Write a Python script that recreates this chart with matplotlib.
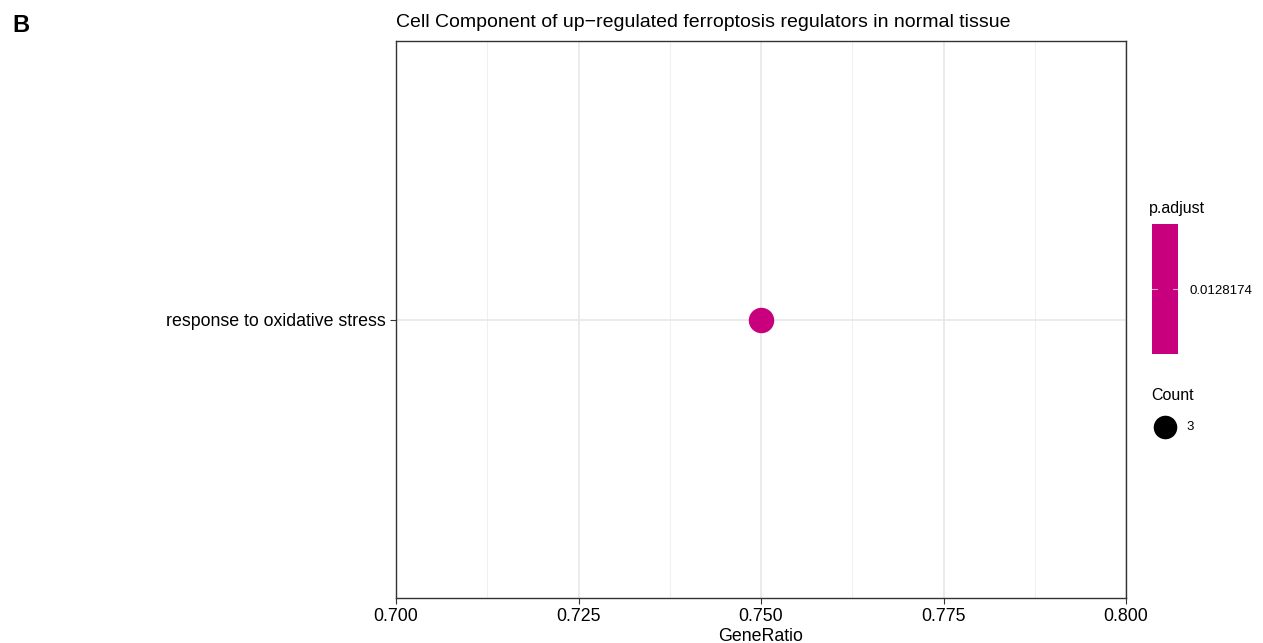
import matplotlib.pyplot as plt
import matplotlib as mpl
import numpy as np

plt.rcParams['font.family'] = ['Liberation Sans', 'DejaVu Sans']

# data
terms = ['response to oxidative stress']
gene_ratio = [0.75]
p_adjust = [0.0128174]
counts = [3]
xticks = [0.700, 0.725, 0.750, 0.775, 0.800]
xtick_labels = ['0.700', '0.725', '0.750', '0.775', '0.800']

point_color = '#C8007E'

fig = plt.figure(figsize=(12.63, 6.43), dpi=100)
ax = fig.add_axes([396/1263, 1-598/643, (1126-396)/1263, (598-41)/643])

ypos = np.arange(len(terms)) + 1
ax.scatter(gene_ratio, ypos, s=[c * 100 for c in counts], color=point_color, zorder=3)

ax.set_xlim(0.7, 0.8)
ax.set_ylim(0.4, 1.6)
ax.set_xticks(xticks)
ax.set_xticklabels(xtick_labels)
ax.set_xticks([0.7125, 0.7375, 0.7625, 0.7875], minor=True)
ax.set_yticks(ypos)
ax.set_yticklabels(terms)
ax.grid(True, which='major', color='#e6e6e6', linewidth=1.1)
ax.grid(True, which='minor', axis='x', color='#f0f0f0', linewidth=0.8)
ax.set_axisbelow(True)
ax.tick_params(axis='both', which='major', labelsize=12.8, length=4, color='#333333', colors='black')
ax.tick_params(axis='x', which='minor', length=0)
for s in ax.spines.values():
    s.set_color('#333333')
    s.set_linewidth(1)
ax.set_xlabel('GeneRatio', fontsize=12.8, labelpad=2)
ax.set_title('Cell Component of up\u2212regulated ferroptosis regulators in normal tissue',
             fontsize=14, loc='left', pad=10)

# colorbar legend
cax = fig.add_axes([1152/1263, 1-354/643, 26/1263, 130/643])
cmap = mpl.colors.ListedColormap([point_color])
cb = mpl.colorbar.ColorbarBase(cax, cmap=cmap, norm=mpl.colors.Normalize(0, 1))
cb.set_ticks([0.5])
cb.set_ticklabels(['0.0128174'])
cb.outline.set_visible(False)
cax.tick_params(labelsize=9.5, length=0, pad=8)
cax.axhline(0.5, xmin=0, xmax=0.2, color='#e8a0c8', lw=0.8)
cax.axhline(0.5, xmin=0.8, xmax=1, color='#e8a0c8', lw=0.8)
fig.text(1149/1263, 1-208/643, 'p.adjust', fontsize=11.5, va='center')

# size legend
fig.text(1151/1263, 1-396/643, 'Count', fontsize=11.5, va='center')
fig.text(1186/1263, 1-427/643, '3', fontsize=9.5, va='center')
lax = fig.add_axes([1150/1263, 1-440/643, 30/1263, 26/643])
lax.scatter([0], [0], s=counts[0] * 85, color='black', clip_on=False)
lax.set_xlim(-1, 1)
lax.set_ylim(-1, 1)
lax.axis('off')

fig.text(12/1263, 1-26/643, 'B', fontsize=17, fontweight='bold', va='center')

fig.savefig('out.png', dpi=100)
